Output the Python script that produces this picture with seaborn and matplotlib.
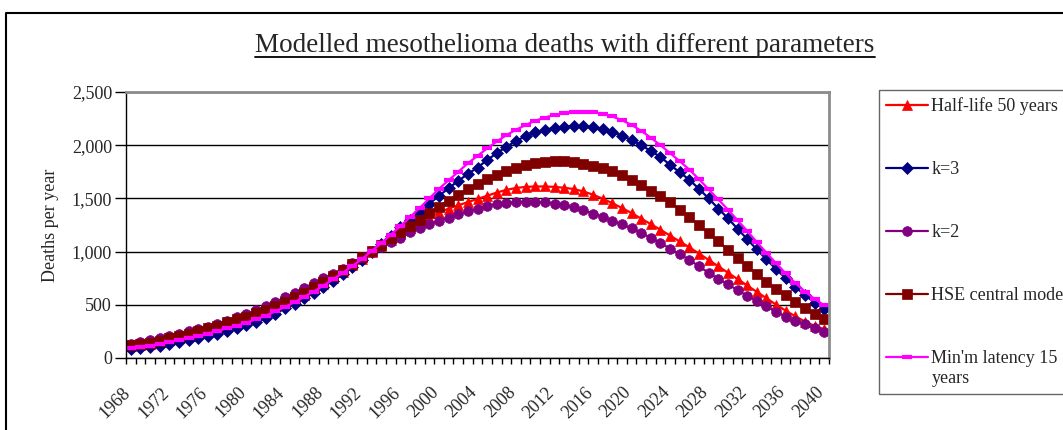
import numpy as np
import pandas as pd
import matplotlib
matplotlib.use("Agg")
import matplotlib.pyplot as plt
import matplotlib.transforms as mtransforms
from matplotlib.lines import Line2D
from matplotlib.legend_handler import HandlerLine2D
from matplotlib.ticker import FuncFormatter
import seaborn as sns

sns.set_style("white")
plt.rcParams['font.family'] = ['Liberation Serif', 'DejaVu Serif']
plt.rcParams['figure.dpi'] = 100

# data (deaths per year, 1968-2040)
years = list(range(1968, 2041))

half_life_50 = [112, 122, 135, 150, 170, 190, 210, 233, 258, 285,
                313, 342, 370, 400, 435, 470, 510, 550, 595, 645,
                695, 750, 810, 870, 930, 995, 1055, 1110, 1165, 1220,
                1275, 1320, 1366, 1405, 1435, 1465, 1495, 1525, 1555, 1580,
                1598, 1608, 1612, 1612, 1608, 1600, 1588, 1565, 1535, 1497,
                1455, 1410, 1362, 1310, 1258, 1205, 1150, 1095, 1040, 982,
                922, 862, 802, 742, 682, 622, 562, 502, 445, 392,
                342, 302, 270]

k3 = [80, 90, 100, 115, 131, 148, 166, 185, 207, 230,
      255, 282, 310, 340, 375, 415, 467, 510, 560, 612,
      668, 728, 790, 855, 925, 1000, 1075, 1150, 1228, 1300,
      1375, 1450, 1525, 1595, 1665, 1730, 1790, 1860, 1925, 1985,
      2040, 2085, 2120, 2145, 2163, 2175, 2180, 2178, 2168, 2150,
      2125, 2090, 2048, 2000, 1945, 1890, 1815, 1745, 1675, 1590,
      1500, 1405, 1313, 1215, 1118, 1020, 928, 835, 750, 668,
      592, 520, 458]

k2 = [135, 150, 165, 185, 207, 228, 250, 272, 295, 322,
      352, 382, 414, 448, 485, 525, 570, 612, 657, 703,
      750, 790, 840, 890, 945, 1000, 1045, 1088, 1130, 1180,
      1220, 1255, 1290, 1320, 1350, 1380, 1405, 1428, 1445, 1458,
      1467, 1470, 1468, 1462, 1450, 1435, 1415, 1390, 1358, 1325,
      1290, 1255, 1218, 1175, 1130, 1080, 1028, 975, 922, 862,
      800, 745, 692, 638, 586, 535, 485, 435, 390, 350,
      315, 280, 248]

hse_central = [120, 130, 145, 160, 185, 205, 225, 250, 278, 305,
               335, 362, 390, 420, 455, 490, 530, 570, 615, 665,
               715, 770, 830, 885, 945, 1005, 1065, 1125, 1180, 1240,
               1300, 1362, 1422, 1480, 1535, 1588, 1635, 1680, 1720, 1755,
               1785, 1810, 1830, 1842, 1847, 1847, 1840, 1828, 1808, 1785,
               1758, 1720, 1675, 1625, 1568, 1520, 1465, 1395, 1322, 1248,
               1172, 1095, 1018, 940, 865, 790, 718, 652, 590, 528,
               468, 412, 362]

min_latency_15 = [95, 105, 117, 133, 152, 170, 188, 208, 230, 255,
                  280, 305, 332, 365, 398, 438, 480, 525, 575, 625,
                  680, 740, 800, 865, 930, 1005, 1080, 1160, 1240, 1325,
                  1410, 1500, 1590, 1670, 1750, 1830, 1900, 1970, 2035, 2095,
                  2145, 2190, 2230, 2260, 2285, 2302, 2312, 2315, 2310, 2295,
                  2270, 2235, 2190, 2135, 2070, 2000, 1925, 1850, 1770, 1680,
                  1585, 1490, 1395, 1295, 1195, 1090, 990, 890, 795, 705,
                  625, 555, 495]

labels = ['Half-life 50 years', 'k=3', 'k=2', 'HSE central model',
          "Min'm latency 15\nyears"]
series = [half_life_50, k3, k2, hse_central, min_latency_15]
colors = ['#FF0000', '#000080', '#800080', '#800000', '#FF00FF']
markers = ['^', 'D', 'o', 's', '_']
msizes = [7.5, 6, 7, 6.5, 7]


class TopLineHandler(HandlerLine2D):
    # put the legend sample next to the first line of a two-line label
    def create_artists(self, legend, orig_handle, xdescent, ydescent,
                       width, height, fontsize, trans):
        return super().create_artists(legend, orig_handle, xdescent,
                                      ydescent - 1.3 * fontsize, width, height,
                                      fontsize, trans)


fig = plt.figure(figsize=(10.63, 4.30), dpi=100)
ax = fig.add_axes([126 / 1063, 72 / 430, 703 / 1063, 266 / 430])

for vals, lab, col, mk, ms in zip(series, labels, colors, markers, msizes):
    sns.lineplot(x=years, y=vals, ax=ax, color=col, marker=mk, markersize=ms,
                 markeredgecolor=col, markeredgewidth=3 if mk == '_' else 0.5,
                 linewidth=1.6, label=lab)

# axes styling (Excel look)
ax.set_xlim(1967.5, 2040.5)
ax.set_ylim(0, 2500)
ax.set_yticks(np.arange(0, 2501, 500))
ax.yaxis.set_major_formatter(FuncFormatter(lambda v, p: f'{int(v):,}'))
ax.yaxis.grid(True, color='black', linewidth=1)
ax.set_axisbelow(True)

ax.set_xticks(np.arange(1968, 2041, 4))
ax.set_xticks(np.arange(1967.5, 2041, 1), minor=True)
ax.tick_params(axis='x', which='major', length=0, pad=23, labelsize=13,
               labelrotation=45)
ax.tick_params(axis='x', which='minor', length=4, width=1, color='black',
               direction='out', bottom=True)
ax.tick_params(axis='y', length=8, width=1, color='black', direction='out',
               left=True, pad=2, labelsize=13)
shift = mtransforms.ScaledTranslation(-3 / 100, 0, fig.dpi_scale_trans)
for lbl in ax.get_xticklabels():
    lbl.set_ha('right')
    lbl.set_va('center')
    lbl.set_rotation_mode('anchor')
    lbl.set_transform(lbl.get_transform() + shift)

for side in ['left', 'bottom']:
    ax.spines[side].set_color('black')
    ax.spines[side].set_linewidth(1)
for side in ['top', 'right']:
    ax.spines[side].set_color('#8c8c8c')
    ax.spines[side].set_linewidth(2)

ax.set_xlabel('')
ax.set_ylabel('Deaths per year', fontsize=13, labelpad=9)

# legend to the right, Excel style
handles, leg_labels = ax.get_legend_handles_labels()
leg = ax.legend(handles, leg_labels, loc='upper left',
                bbox_to_anchor=(879 / 1063, 340 / 430),
                bbox_transform=fig.transFigure, borderaxespad=0,
                fontsize=13, labelspacing=2.55, handlelength=2.3,
                handletextpad=0.2, borderpad=0.4, frameon=True,
                fancybox=False, shadow=False,
                handler_map={handles[-1]: TopLineHandler()})
leg.get_frame().set_edgecolor('#404040')
leg.get_frame().set_linewidth(1)

# title with underline
title = fig.text(565 / 1063, 1 - 45 / 430, 'Modelled mesothelioma deaths with different parameters',
                 ha='center', va='center', fontsize=19.5)
fig.canvas.draw()
bb = title.get_window_extent()
uy = bb.y0 + 1
fig.add_artist(Line2D([bb.x0 / fig.bbox.width, bb.x1 / fig.bbox.width],
                      [uy / fig.bbox.height, uy / fig.bbox.height],
                      transform=fig.transFigure, color='black', linewidth=1.3))

# outer chart frame (left and top edges visible)
fig.add_artist(Line2D([6 / 1063, 6 / 1063, 1.0], [0.0, 1 - 13 / 430, 1 - 13 / 430],
                      transform=fig.transFigure, color='black', linewidth=1.5))

fig.savefig('out.png', dpi=100)
